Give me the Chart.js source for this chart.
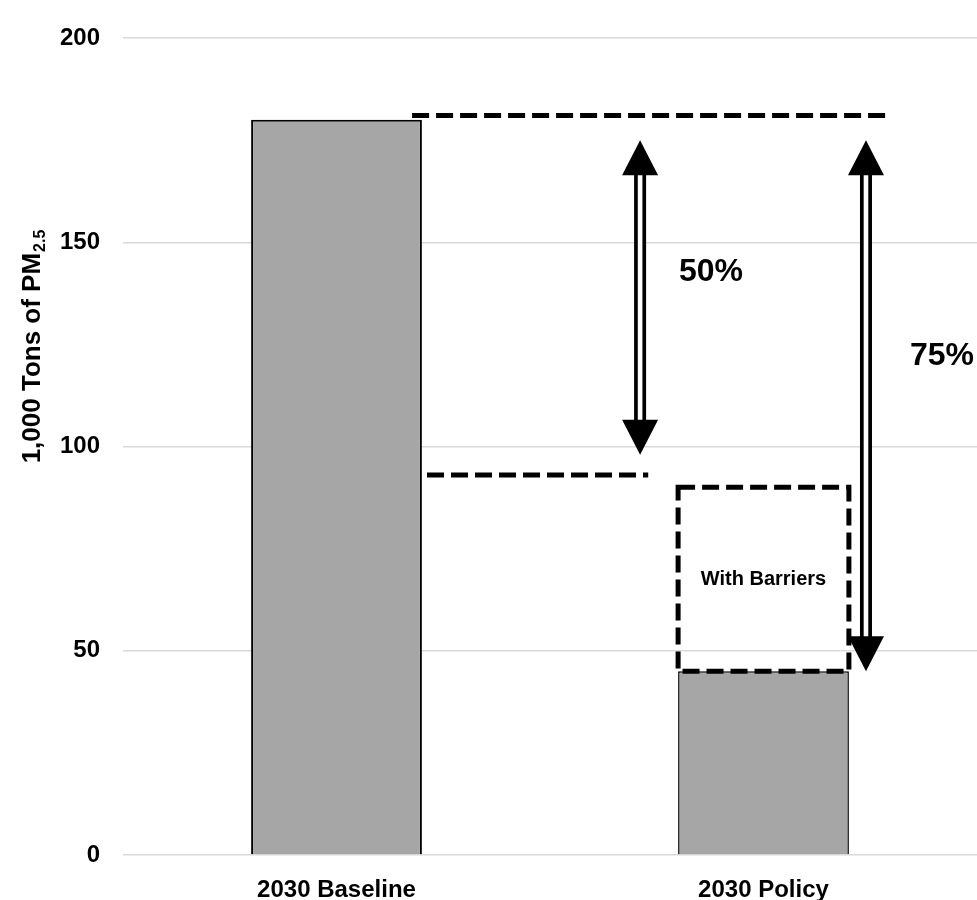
<!DOCTYPE html>
<html>
<head>
<meta charset="utf-8">
<title>PM2.5 emissions 2030</title>
<script src="https://cdn.jsdelivr.net/npm/chart.js@4.4.1/dist/chart.umd.min.js"></script>
<style>
  html, body { margin: 0; padding: 0; background: #fff; }
  #wrap { width: 977px; height: 900px; }
</style>
</head>
<body>
<div id="wrap"><canvas id="pmChart" width="977" height="900"></canvas></div>
<script>
// chart data
var categories = ['2030 Baseline', '2030 Policy'];
var emissions = [180, 45];
var yTicks = [0, 50, 100, 150, 200];

// "with barriers" range sitting on the policy bar (category 1)
var barrierRange = [45, 90];

// dashed reference levels, x given in category units
var baselineLevel = 181;
var baselineLevelX = [0.177, 1.285];
var targetLevel = 93;
var targetLevelX = [0.212, 0.73];

// double arrows: x in category units, [top, bottom] values
var arrow50X = 0.711;
var arrow50Y = [175, 98];
var arrow75X = 1.24;
var arrow75Y = [175, 45];

// text labels: [text, x in category units, y value]
var label50 = ['50%', 0.877, 142.7];
var label75 = ['75%', 1.418, 122];
var labelBarriers = ['With Barriers', 1, 67.5];

var FONT = '"Liberation Sans", Arial, Helvetica, sans-serif';

var overlay = {
    id: 'overlay',
    afterDatasetsDraw: function (chart) {
        var c = chart.ctx;
        var xs = chart.scales.x;
        var ys = chart.scales.y;

        function hline(value, range) {
            var py = ys.getPixelForValue(value);
            c.beginPath();
            c.moveTo(xs.getPixelForValue(range[0]), py);
            c.lineTo(xs.getPixelForValue(range[1]), py);
            c.stroke();
        }

        function arrow(xv, yv) {
            var px = xs.getPixelForValue(xv);
            var top = ys.getPixelForValue(yv[0]);
            var bot = ys.getPixelForValue(yv[1]);
            var headLen = 35, headHalf = 18;
            // double shaft
            c.fillStyle = '#000';
            c.fillRect(px - 6, top + headLen - 1, 12, bot - top - 2 * headLen + 2);
            c.fillStyle = '#fff';
            c.fillRect(px - 2.3, top + headLen - 1, 4.6, bot - top - 2 * headLen + 2);
            c.fillStyle = '#000';
            c.beginPath();
            c.moveTo(px, top);
            c.lineTo(px + headHalf, top + headLen);
            c.lineTo(px - headHalf, top + headLen);
            c.closePath();
            c.fill();
            c.beginPath();
            c.moveTo(px, bot);
            c.lineTo(px + headHalf, bot - headLen);
            c.lineTo(px - headHalf, bot - headLen);
            c.closePath();
            c.fill();
        }

        function text(item, size) {
            c.font = 'bold ' + size + 'px ' + FONT;
            c.fillStyle = '#000';
            c.textAlign = 'center';
            c.textBaseline = 'middle';
            c.fillText(item[0], xs.getPixelForValue(item[1]), ys.getPixelForValue(item[2]));
        }

        c.save();
        c.strokeStyle = '#000';
        c.lineWidth = 5;
        c.lineCap = 'butt';
        c.setLineDash([17, 7]);
        hline(baselineLevel, baselineLevelX);
        hline(targetLevel, targetLevelX);

        // dashed box on top of the policy bar
        var bar = chart.getDatasetMeta(0).data[1];
        var bTop = ys.getPixelForValue(barrierRange[1]);
        var bBot = ys.getPixelForValue(barrierRange[0]);
        c.strokeRect(bar.x - bar.width / 2, bTop, bar.width, bBot - bTop);
        c.setLineDash([]);

        arrow(arrow50X, arrow50Y);
        arrow(arrow75X, arrow75Y);

        text(label50, 32);
        text(label75, 32);
        text(labelBarriers, 20);

        // y axis title with subscript
        c.translate(31, 347);
        c.rotate(-Math.PI / 2);
        c.textAlign = 'left';
        c.textBaseline = 'alphabetic';
        var main = '1,000 Tons of PM', sub = '2.5';
        c.font = 'bold 26px ' + FONT;
        var wMain = c.measureText(main).width;
        c.font = 'bold 16px ' + FONT;
        var wSub = c.measureText(sub).width;
        var x0 = -(wMain + wSub) / 2;
        c.font = 'bold 26px ' + FONT;
        c.fillText(main, x0, 9);
        c.font = 'bold 16px ' + FONT;
        c.fillText(sub, x0 + wMain + 1, 14);
        c.restore();
    }
};

var ctx = document.getElementById('pmChart').getContext('2d');

new Chart(ctx, {
    type: 'bar',
    data: {
        labels: categories,
        datasets: [{
            data: emissions,
            backgroundColor: '#a6a6a6',
            borderColor: '#000',
            borderWidth: [2, 1.5],
            barPercentage: 0.4,
            categoryPercentage: 1
        }]
    },
    options: {
        responsive: false,
        animation: false,
        layout: {
            padding: { top: 38, right: 0, bottom: 0, left: 0 }
        },
        plugins: {
            legend: { display: false },
            tooltip: { enabled: false }
        },
        scales: {
            x: {
                grid: { display: false },
                border: { display: false },
                ticks: {
                    color: '#000',
                    padding: 13,
                    font: { family: FONT, size: 24, weight: 'bold' }
                },
                afterFit: function (scale) { scale.height = 45; }
            },
            y: {
                min: 0,
                max: 200,
                afterBuildTicks: function (scale) {
                    scale.ticks = yTicks.map(function (v) { return { value: v }; });
                },
                grid: { color: '#d9d9d9', lineWidth: 1.5, drawTicks: false },
                border: { display: false },
                ticks: {
                    color: '#000',
                    padding: 23,
                    font: { family: FONT, size: 24, weight: 'bold' }
                },
                afterFit: function (scale) { scale.width = 123; }
            }
        }
    },
    plugins: [overlay]
});
</script>
</body>
</html>
